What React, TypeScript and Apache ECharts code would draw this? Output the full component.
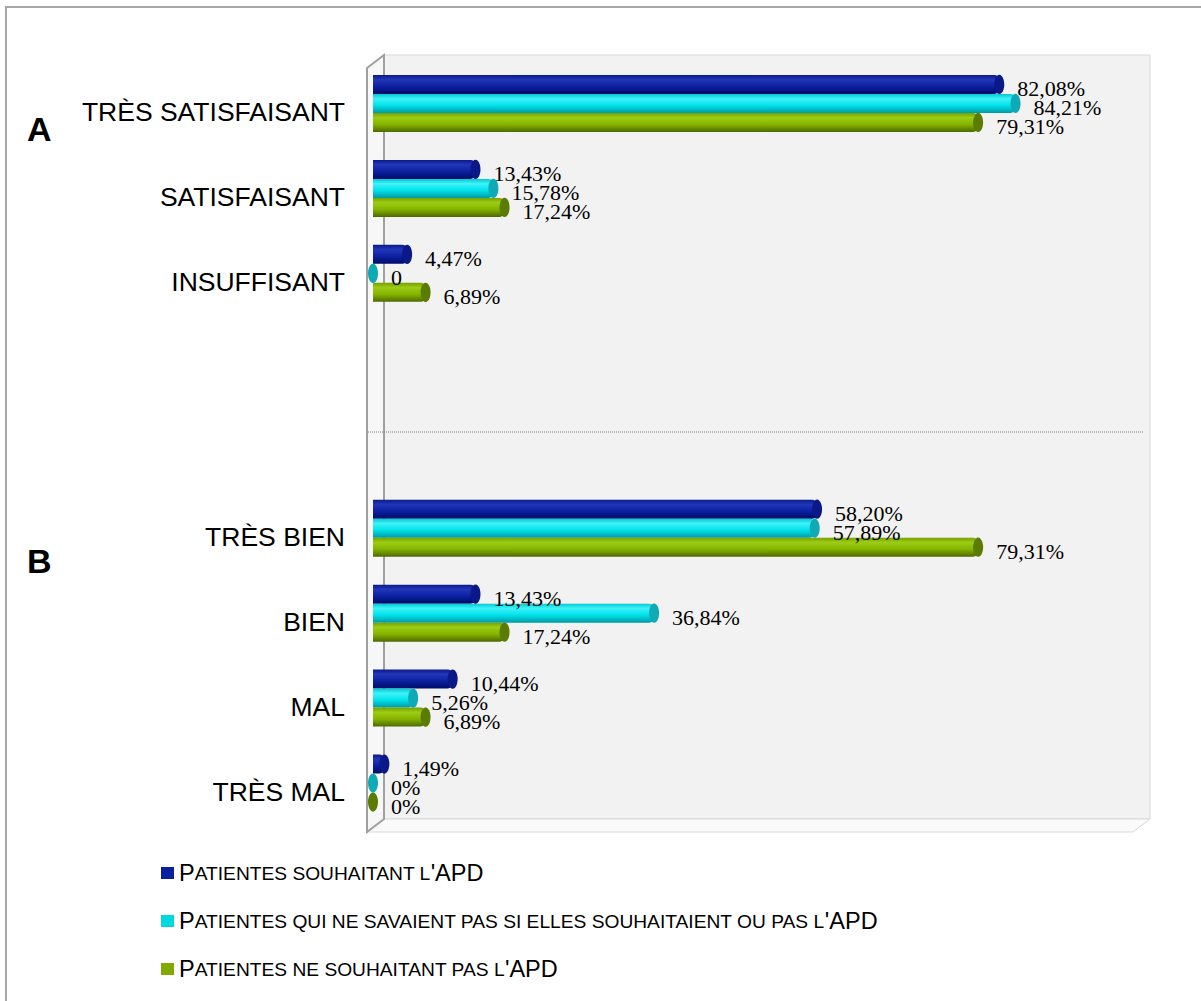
import React, { useEffect, useRef } from 'react';
import * as echarts from 'echarts';

const categories = ['TRÈS SATISFAISANT', 'SATISFAISANT', 'INSUFFISANT', '', '', 'TRÈS BIEN', 'BIEN', 'MAL', 'TRÈS MAL'];
const seriesNames = [
  "Patientes souhaitant l'APD",
  "Patientes qui ne savaient pas si elles souhaitaient ou pas l'APD",
  "Patientes ne souhaitant pas l'APD",
];
const souhaitant = [82.08, 13.43, 4.47, null, null, 58.2, 13.43, 10.44, 1.49];
const neSaventPas = [84.21, 15.78, 0, null, null, 57.89, 36.84, 5.26, 0];
const neSouhaitantPas = [79.31, 17.24, 6.89, null, null, 79.31, 17.24, 6.89, 0];
const labelsSouhaitant = ['82,08%', '13,43%', '4,47%', '', '', '58,20%', '13,43%', '10,44%', '1,49%'];
const labelsNeSaventPas = ['84,21%', '15,78%', '0', '', '', '57,89%', '36,84%', '5,26%', '0%'];
const labelsNeSouhaitantPas = ['79,31%', '17,24%', '6,89%', '', '', '79,31%', '17,24%', '6,89%', '0%'];

const W = 1201;
const H = 1001;
const GRID_LEFT = 373;
const GRID_RIGHT = 1136;
const GRID_TOP = 61;
const GRID_BOTTOM = 825.5;
const DEPTH_X = 17;
const DEPTH_Y = 13;

const legendColors = ['#0a1f9f', '#00d8e0', '#80aa00'];
const bodyStops = [
  ['#0a1a8c', '#2236b8', '#0b21a2', '#000a66'],
  ['#00c8d2', '#40f2f8', '#00e2ea', '#009aa6'],
  ['#77a000', '#9ccc14', '#86b400', '#4d6a00'],
];
const capColors = ['#0a1888', '#10aab6', '#5a7c00'];

function smallCaps(name: string): string {
  let out = '';
  let cur = '';
  let curType = '';
  const flush = () => {
    if (cur) out += `{${curType}|${cur}}`;
    cur = '';
  };
  for (const ch of name) {
    const isLower = ch !== ch.toUpperCase();
    const t = isLower || ch === ' ' ? 's' : 'b';
    if (t !== curType) {
      flush();
      curType = t;
    }
    cur += isLower ? ch.toUpperCase() : ch;
  }
  flush();
  return out;
}

export default function App() {
  const ref = useRef<HTMLDivElement>(null);
  useEffect(() => {
    document.body.style.margin = '0';
    if (!ref.current) return;
    const chart = echarts.init(ref.current, null, { renderer: 'svg' });
    const datasets = [souhaitant, neSaventPas, neSouhaitantPas];
    const labelSets = [labelsSouhaitant, labelsNeSaventPas, labelsNeSouhaitantPas];

    const series: any[] = [];
    datasets.forEach((d, i) => {
      const s = bodyStops[i];
      series.push({
        type: 'bar',
        name: seriesNames[i],
        data: d,
        barWidth: 19,
        barGap: '0%',
        z: 3,
        itemStyle: {
          borderRadius: [0, 5, 5, 0],
          color: new echarts.graphic.LinearGradient(0, 0, 0, 1, [
            { offset: 0, color: s[0] },
            { offset: 0.25, color: s[1] },
            { offset: 0.6, color: s[2] },
            { offset: 1, color: s[3] },
          ]),
        },
        label: {
          show: true,
          position: 'right',
          distance: 18,
          offset: [0, 4],
          formatter: (p: any) => labelSets[i][p.dataIndex],
          fontFamily: 'Liberation Serif',
          fontSize: 22,
          color: '#000',
        },
      });
    });
    datasets.forEach((d, i) => {
      series.push({
        type: 'pictorialBar',
        name: 'cap' + i,
        data: d,
        barWidth: 19,
        barGap: '0%',
        symbol: 'circle',
        symbolSize: [10, 19],
        symbolPosition: 'end',
        symbolOffset: ['50%', 0],
        z: 4,
        silent: true,
        itemStyle: { color: capColors[i] },
      });
    });

    const frameZ = -5;
    chart.setOption({
      animation: false,
      grid: {
        left: GRID_LEFT,
        right: W - GRID_RIGHT,
        top: GRID_TOP,
        bottom: H - GRID_BOTTOM,
        containLabel: false,
      },
      xAxis: {
        type: 'value',
        min: 0,
        max: 100,
        show: false,
      },
      yAxis: {
        type: 'category',
        data: categories,
        inverse: true,
        axisLine: { show: false },
        axisTick: { show: false },
        splitLine: { show: false },
        axisLabel: {
          margin: 28,
          formatter: (v: string) => (v ? `{c|${v}}` : ''),
          rich: {
            c: {
              fontSize: 26.5,
              fontFamily: 'Liberation Sans',
              color: '#000',
              padding: [17, 0, 0, 0],
            },
          },
        },
      },
      legend: {
        orient: 'vertical',
        left: 156,
        top: 856,
        itemWidth: 13,
        itemHeight: 12,
        itemGap: 24,
        icon: 'rect',
        selectedMode: false,
        data: seriesNames.map((n, i) => ({ name: n, itemStyle: { color: legendColors[i] } })),
        formatter: (n: string) => smallCaps(n),
        textStyle: {
          color: '#000',
          rich: {
            b: { fontSize: 23.5, fontFamily: 'Liberation Sans', color: '#000', lineHeight: 26 },
            s: { fontSize: 19.2, fontFamily: 'Liberation Sans', color: '#000', lineHeight: 26 },
          },
        },
      },
      graphic: [
        {
          type: 'rect',
          z: frameZ,
          shape: { x: 6, y: 7, width: 1200, height: 1000 },
          style: { fill: '#fff', stroke: '#a6a6a6', lineWidth: 2 },
        },
        {
          type: 'rect',
          z: frameZ + 1,
          shape: {
            x: GRID_LEFT - 6 + DEPTH_X,
            y: GRID_TOP + 7 - DEPTH_Y,
            width: GRID_RIGHT + 14 - (GRID_LEFT - 6 + DEPTH_X),
            height: GRID_BOTTOM + 6.5 - DEPTH_Y - (GRID_TOP + 7 - DEPTH_Y),
          },
          style: { fill: '#f2f2f2', stroke: '#d9d9d9', lineWidth: 1 },
        },
        {
          type: 'polygon',
          z: frameZ + 1,
          shape: {
            points: [
              [GRID_LEFT - 6, GRID_BOTTOM + 6.5],
              [GRID_LEFT - 6 + DEPTH_X, GRID_BOTTOM + 6.5 - DEPTH_Y],
              [GRID_RIGHT + 14, GRID_BOTTOM + 6.5 - DEPTH_Y],
              [GRID_RIGHT + 14 - DEPTH_X, GRID_BOTTOM + 6.5],
            ],
          },
          style: { fill: '#fafafa', stroke: '#d9d9d9', lineWidth: 1 },
        },
        {
          type: 'polygon',
          z: frameZ + 2,
          shape: {
            points: [
              [GRID_LEFT - 6, GRID_TOP + 7],
              [GRID_LEFT - 6 + DEPTH_X, GRID_TOP + 7 - DEPTH_Y],
              [GRID_LEFT - 6 + DEPTH_X, GRID_BOTTOM + 6.5 - DEPTH_Y],
              [GRID_LEFT - 6, GRID_BOTTOM + 6.5],
            ],
          },
          style: { fill: '#f7f7f7', stroke: '#a0a0a0', lineWidth: 2 },
        },
        {
          type: 'line',
          z: frameZ + 3,
          shape: { x1: GRID_LEFT - 5, y1: 432, x2: GRID_RIGHT + 7, y2: 432 },
          style: { stroke: '#7f7f7f', lineWidth: 1, lineDash: [1, 1] },
        },
        {
          type: 'text',
          z: 10,
          left: 27,
          top: 112,
          style: { text: 'A', fontSize: 34, fontWeight: 'bold', fontFamily: 'Liberation Sans', fill: '#000' },
        },
        {
          type: 'text',
          z: 10,
          left: 27,
          top: 544,
          style: { text: 'B', fontSize: 34, fontWeight: 'bold', fontFamily: 'Liberation Sans', fill: '#000' },
        },
      ],
      series,
    });
    return () => chart.dispose();
  }, []);
  return (
    <div
      ref={ref}
      style={{ position: 'absolute', left: 0, top: 0, width: W, height: H, overflow: 'hidden' }}
    />
  );
}
